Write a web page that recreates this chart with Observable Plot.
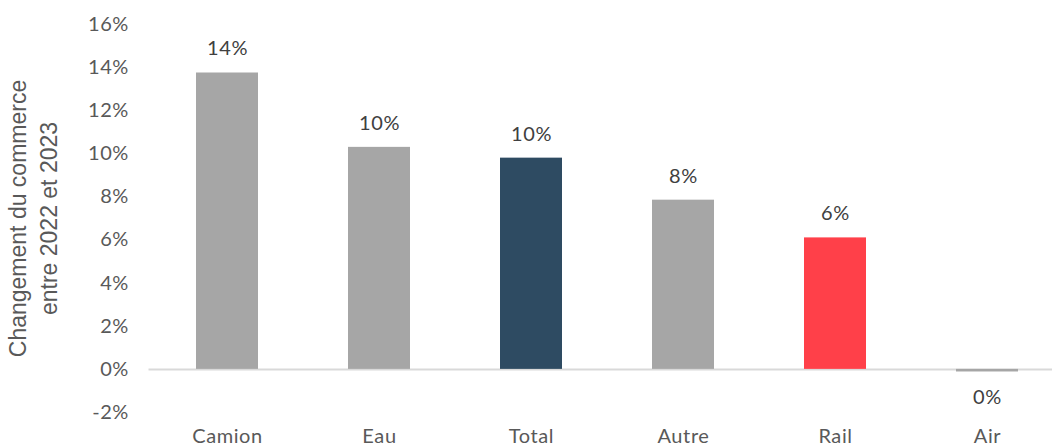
<!DOCTYPE html>
<html>
<head>
<meta charset="utf-8">
<script src="https://cdn.jsdelivr.net/npm/d3@7"></script>
<script src="https://cdn.jsdelivr.net/npm/@observablehq/plot@0.6"></script>
<style>
  html, body { margin: 0; padding: 0; background: #fff; }
</style>
</head>
<body>
<div id="chart"></div>
<script>
const categories = ["Camion", "Eau", "Total", "Autre", "Rail", "Air"];
const values = [13.75, 10.3, 9.8, 7.85, 6.1, -0.12];
const barColors = ["#a6a6a6", "#a6a6a6", "#2e4b62", "#a6a6a6", "#ff4049", "#a6a6a6"];
const yTicks = [-2, 0, 2, 4, 6, 8, 10, 12, 14, 16];
const yTitle = "Changement du commerce\nentre 2022 et 2023";

const data = categories.map((c, i) => ({cat: c, value: values[i], color: barColors[i]}));
const fmt = v => { const r = Math.round(v); return (r === 0 ? 0 : r) + "%"; };

const chart = Plot.plot({
  width: 1052,
  height: 447,
  marginTop: 24,
  marginBottom: 35,
  marginLeft: 148.5,
  marginRight: 0,
  style: {fontFamily: "Lato, sans-serif", fontSize: "20px", color: "#595959", background: "#fff", letterSpacing: "0.6px"},
  x: {domain: categories, range: [148.5, 1064.5], paddingInner: 0.594, paddingOuter: 0.297, tickSize: 0, tickPadding: 16.5, label: null},
  y: {domain: [-2, 16], ticks: yTicks, tickFormat: d => d + "%", tickSize: 0, tickPadding: 20, label: null},
  marks: [
    Plot.ruleY([0], {stroke: "#d9d9d9", strokeWidth: 2}),
    Plot.barY(data, {x: "cat", y: "value", fill: "color"}),
    Plot.text(data.filter(d => d.value >= 0), {x: "cat", y: "value", text: d => fmt(d.value), dy: -24, fill: "#404040", fontSize: 20}),
    Plot.text(data.filter(d => d.value < 0), {x: "cat", y: "value", text: d => fmt(d.value), dy: 26, fill: "#404040", fontSize: 20}),
    Plot.text([yTitle], {text: d => d, frameAnchor: "left", textAnchor: "middle", lineAnchor: "middle", rotate: -90, dx: -117, fontFamily: "Liberation Sans, Arial, sans-serif", fontSize: 23, lineHeight: 1.34, fill: "#595959"})
  ]
});
chart.querySelectorAll("text").forEach(t => {
  if (t.textContent.startsWith("Changement") || t.textContent.startsWith("entre")) {
    t.style.letterSpacing = "0px";
    if (t.parentNode && t.parentNode.tagName === "text") t.parentNode.style.letterSpacing = "0px";
  }
});
document.getElementById("chart").appendChild(chart);
</script>
</body>
</html>
